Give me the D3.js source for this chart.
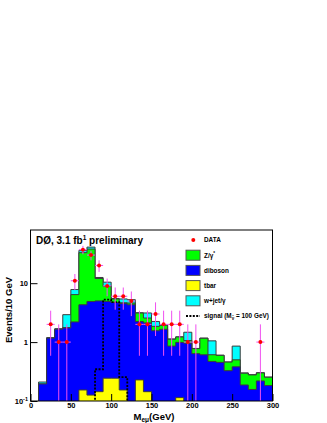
<!DOCTYPE html>
<html><head><meta charset="utf-8">
<script src="https://cdn.jsdelivr.net/npm/d3@7"></script>
<style>
body{margin:0;background:#fff}
svg{display:block}
text{font-family:"Liberation Sans",Arial,Helvetica,sans-serif;font-weight:bold;fill:#000}
</style>
</head><body>
<svg id="c" width="327" height="423"></svg>
<script>
// ---- data (10 GeV bins, 0-300 GeV) ----
const binLow = d3.range(0, 300, 10);
const ttbar   = [0,0,0,0,0,0,0.154,0.126,0.144,0.244,0.244,0.154,0,0.228,0.144,0,0,0,0.114,0,0,0,0,0,0,0,0,0,0,0];
const diboson = [0,0.195,1.17,1.66,1.74,2.2,4.15,4.77,4.86,4.66,4.46,4.35,4.3,2.01,1.97,1.56,1.65,0.855,0.876,0.96,0.637,0.608,0.47,0.453,0.327,0.38,0.187,0.157,0.219,0.183];
const zgamma  = [0,0,0,0,0.02,4.2,28.7,33.1,7.0,3.95,0.7,0.15,0.3,0.88,0.45,0.29,0.28,0.265,0.23,0.10,0.138,0.552,0.14,0.142,0.131,0.12,0.109,0.12,0.081,0.07];
const wjets   = [0,0.015,0.02,0.02,1.16,1.4,3.0,3.0,0.5,1.55,0.1,0.75,0.65,0.03,0.56,0.39,0.02,0.01,0.01,0.41,0.005,0.01,0.44,0.005,0.002,0.355,0.004,0.003,0.002,0.002];
const signal  = [0,0,0,0,0,0,0,0,0.346,5.25,4.77,0.254,0,0,0,0,0,0,0,0,0,0,0,0,0,0,0,0,0,0];
const dataCounts = [0,0,2,1,1,11,37,30,20,9,6,6,5,2,2,3,2,2,2,1,1,0,0,0,0,0,0,0,1,0];
const xTicks = [0,50,100,150,200,250,300];
const yTicks = [0.1,1,10];
const legendLabels = ["DATA","Z/\u03b3*","diboson","tbar","w+jet/\u03b3","signal"];

// ---- setup ----
const svg = d3.select("#c");
const x = d3.scaleLinear().domain([0,300]).range([30.5,272.5]);
const y = d3.scaleLog().domain([0.1,80]).range([401,230]);
const floorV = 1e-3;

svg.append("defs").append("clipPath").attr("id","clip")
  .append("rect").attr("x",x(0)).attr("y",y(80)).attr("width",x(300)-x(0)).attr("height",y(0.1)-y(80));

const rows = binLow.map((b,i)=>({b, ttbar:ttbar[i], diboson:diboson[i], zgamma:zgamma[i], wjets:wjets[i]}));
const stack = d3.stack().keys(["ttbar","diboson","zgamma","wjets"])(rows);
const colors = {ttbar:"#ffff00", diboson:"#0000ff", zgamma:"#00ff00", wjets:"#00ffff"};

function stepPoints(vals){
  const pts=[[x(0), y(floorV)]];
  vals.forEach((v,i)=>{ const yy=y(Math.max(v,floorV)); pts.push([x(binLow[i]),yy],[x(binLow[i]+10),yy]); });
  pts.push([x(300), y(floorV)]);
  return pts;
}
const line = d3.line();
const plot = svg.append("g").attr("clip-path","url(#clip)");

// cumulative histograms drawn from the largest down
stack.slice().reverse().forEach(layer=>{
  const tops = layer.map(d=>d[1]);
  plot.append("path").attr("d", line(stepPoints(tops))+"Z")
    .attr("fill", colors[layer.key]).attr("stroke","#3c3c3c").attr("stroke-width",1);
});

// signal
plot.append("path").attr("d", line(stepPoints(signal)))
  .attr("fill","none").attr("stroke","#000").attr("stroke-width",1.8).attr("stroke-dasharray","2,1.4");

// data
const dpts = binLow.map((b,i)=>({c:b+5, n:dataCounts[i]})).filter(d=>d.n>0);
const eb = plot.append("g").attr("stroke","#f050f0").attr("stroke-width",1);
dpts.forEach(d=>{
  const e=Math.sqrt(d.n);
  eb.append("line").attr("x1",x(d.c)).attr("x2",x(d.c)).attr("y1",y(d.n+e)).attr("y2",y(Math.max(d.n-e,floorV)));
  eb.append("line").attr("x1",x(d.c-5)).attr("x2",x(d.c+5)).attr("y1",y(d.n)).attr("y2",y(d.n));
});
plot.append("g").selectAll("circle").data(dpts).join("circle")
  .attr("cx",d=>x(d.c)).attr("cy",d=>y(d.n)).attr("r",2).attr("fill","#ff0000");

// ---- axes ----
const gx = svg.append("g").attr("transform",`translate(0,${y(0.1)})`);
gx.call(d3.axisBottom(x).tickValues(d3.range(0,301,10)).tickSize(-3.5).tickFormat(""));
gx.call(d3.axisBottom(x).tickValues(xTicks).tickSize(-7).tickPadding(2).tickFormat(d3.format("d")));
gx.selectAll(".domain").remove();
gx.selectAll("text").attr("font-size",7.5).attr("font-family",null).attr("font-weight",null);

const minorY = [];
[0.1,1,10].forEach(dec=>{ for(let k=2;k<=9;k++){ const v=dec*k; if(v<=80) minorY.push(v);} });
const gy = svg.append("g").attr("transform",`translate(${x(0)},0)`);
gy.call(d3.axisLeft(y).tickValues(minorY).tickSize(-3.5).tickFormat(""));
gy.call(d3.axisLeft(y).tickValues(yTicks).tickSize(-7).tickPadding(3).tickFormat(""));
gy.selectAll(".domain").remove();
gy.selectAll("line").attr("stroke","#000");
gx.selectAll("line").attr("stroke","#000");
yTicks.forEach(v=>{
  const t = svg.append("text").attr("x",x(0)-2.5).attr("y",y(v)+2.7).attr("text-anchor","end").attr("font-size",7.5);
  if(v===0.1){ t.append("tspan").text("10"); t.append("tspan").attr("font-size",5.5).attr("dy",-3).text("-1"); }
  else t.text(String(v));
});

// frame
svg.append("rect").attr("x",x(0)).attr("y",y(80)).attr("width",x(300)-x(0)).attr("height",y(0.1)-y(80))
  .attr("fill","none").attr("stroke","#000").attr("stroke-width",1);

// axis titles
const xt = svg.append("text").attr("x",154).attr("y",420).attr("text-anchor","middle").attr("font-size",9.5);
xt.append("tspan").text("M");
xt.append("tspan").attr("font-size",6.5).attr("dy",2).text("e\u03bc");
xt.append("tspan").attr("dy",-2).text("(GeV)");
svg.append("text").attr("transform","translate(12,310) rotate(-90)").attr("text-anchor","middle")
  .attr("font-size",9.5).text("Events/10 GeV");

// title
const tt = svg.append("text").attr("x",36).attr("y",243.5).attr("font-size",10);
tt.append("tspan").text("D\u00d8, 3.1 fb");
tt.append("tspan").attr("font-size",6.5).attr("dy",-4).text("1");
tt.append("tspan").attr("dy",4).text(" preliminary");

// ---- legend ----
const lg = svg.append("g");
const ly0 = 240, dy = 15.2, bx = 186, tx = 204;
lg.append("circle").attr("cx",193.3).attr("cy",ly0).attr("r",2).attr("fill","#ff0000");
const boxKeys = ["zgamma","diboson","ttbar","wjets"];
boxKeys.forEach((k,i)=>{
  const cy = ly0 + dy*(i+1);
  lg.append("rect").attr("x",bx).attr("y",cy-5).attr("width",14).attr("height",10)
    .attr("fill",colors[k]).attr("stroke","#555").attr("stroke-width",1);
});
const sy = ly0 + dy*5;
lg.append("line").attr("x1",bx).attr("x2",bx+14).attr("y1",sy).attr("y2",sy)
  .attr("stroke","#000").attr("stroke-width",1.8).attr("stroke-dasharray","2,1.4");
legendLabels.forEach((lab,i)=>{
  const t = lg.append("text").attr("x",tx).attr("y",ly0+dy*i+2.3).attr("font-size",6.4);
  if(lab==="Z/\u03b3*"){ t.append("tspan").text("Z/\u03b3"); t.append("tspan").attr("font-size",4.5).attr("dy",-2.5).text("*"); }
  else if(lab==="signal"){
    t.append("tspan").text("signal (M");
    t.append("tspan").attr("font-size",4.5).attr("dy",2).text("\u03bd\u0303");
    t.append("tspan").attr("dy",-2).text(" = 100 GeV)");
  } else t.text(lab);
});
</script>
</body></html>
